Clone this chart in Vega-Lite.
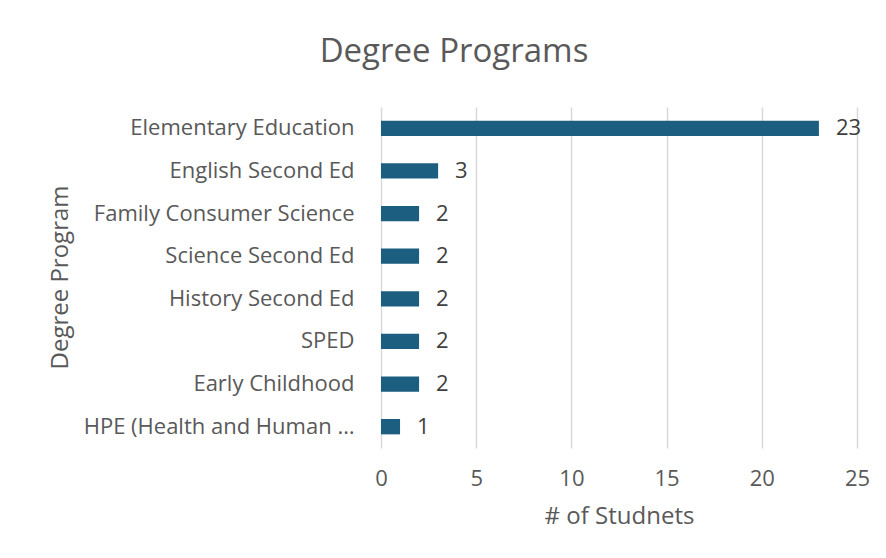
{
  "$schema": "https://vega.github.io/schema/vega-lite/v6.json",
  "width": 476,
  "height": 341,
  "autosize": "none",
  "padding": {"left": 381, "top": 107, "right": 29, "bottom": 110},
  "background": "white",
  "title": {
    "text": "Degree Programs",
    "fontSize": 33,
    "font": "Open Sans",
    "fontWeight": "normal",
    "color": "#595959",
    "anchor": "middle",
    "baseline": "alphabetic",
    "dx": -165,
    "offset": 12
  },
  "data": {
    "values": [
      {"program": "Elementary Education", "count": 23},
      {"program": "English Second Ed", "count": 3},
      {"program": "Family Consumer Science", "count": 2},
      {"program": "Science Second Ed", "count": 2},
      {"program": "History Second Ed", "count": 2},
      {"program": "SPED", "count": 2},
      {"program": "Early Childhood", "count": 2},
      {"program": "HPE (Health and Human Performance)", "count": 1}
    ]
  },
  "encoding": {
    "y": {
      "field": "program",
      "type": "nominal",
      "sort": null,
      "scale": {"paddingInner": 0.64, "paddingOuter": 0.32},
      "axis": {
        "title": "Degree Program",
        "titleFontSize": 24,
        "titleFont": "Open Sans",
        "titleFontWeight": "normal",
        "titleColor": "#595959",
        "titleX": -321,
        "titleY": 170,
        "titleAlign": "center",
        "titleBaseline": "middle",
        "titleAngle": -90,
        "labelFont": "Open Sans",
        "labelFontSize": 22,
        "labelColor": "#595959",
        "labelPadding": 27,
        "labelLimit": 275,
        "domain": false,
        "ticks": false
      }
    },
    "x": {
      "field": "count",
      "type": "quantitative",
      "scale": {"domain": [0, 25]},
      "axis": {
        "title": "# of Studnets",
        "values": [0, 5, 10, 15, 20, 25],
        "titleFontSize": 24,
        "titleFont": "Open Sans",
        "titleFontWeight": "normal",
        "titleColor": "#595959",
        "titlePadding": 15,
        "labelFont": "Open Sans",
        "labelFontSize": 22,
        "labelColor": "#595959",
        "labelPadding": 20,
        "labelFlush": false,
        "labelOverlap": false,
        "domain": false,
        "ticks": false,
        "grid": true,
        "gridColor": "#d9d9d9",
        "gridWidth": 1.5
      }
    }
  },
  "layer": [
    {"mark": {"type": "bar", "color": "#1b5e7f"}},
    {
      "mark": {"type": "text", "align": "left", "dx": 17, "font": "Open Sans", "fontSize": 22, "color": "#404040"},
      "encoding": {"text": {"field": "count", "type": "quantitative"}}
    }
  ],
  "config": {"view": {"stroke": null}}
}
